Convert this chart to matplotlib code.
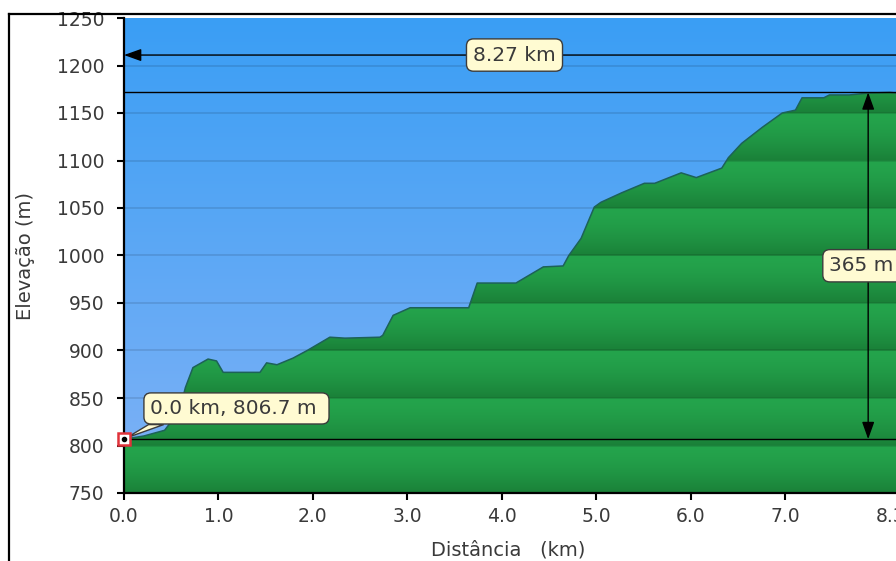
"""Elevation profile of a 8.27 km trail, with distance and climb markers."""

import numpy as np
import matplotlib
matplotlib.use("Agg")
import matplotlib.pyplot as plt
from matplotlib.patches import Polygon
from matplotlib.lines import Line2D

# Profile.
dist_km = [0.00, 0.21, 0.43, 0.59, 0.65, 0.73, 0.89, 0.98, 1.05, 1.44,
           1.51, 1.62, 1.79, 1.94, 2.18, 2.34, 2.71, 2.74, 2.85, 3.03,
           3.65, 3.74, 4.15, 4.44, 4.65, 4.71, 4.84, 4.98, 5.05, 5.27,
           5.51, 5.62, 5.90, 6.06, 6.33, 6.40, 6.54, 6.76, 6.97, 7.11,
           7.18, 7.41, 7.47, 7.68, 7.89, 8.11, 8.27]
elev_m = [806.7, 810, 816, 837, 861, 882, 891, 889, 877, 877,
          887, 885, 892, 900, 914, 913, 914, 916, 937, 945,
          945, 971, 971, 988, 989, 1000, 1018, 1051, 1056, 1066,
          1076, 1076, 1087, 1082, 1092, 1103, 1118, 1135, 1150, 1153,
          1166, 1166, 1169, 1169, 1171, 1171.7, 1170]

total_km = 8.27
start_elev = 806.7
gain_m = 365
xtick_vals = [0, 1, 2, 3, 4, 5, 6, 7, total_km]
xtick_labels = ['0.0', '1.0', '2.0', '3.0', '4.0', '5.0', '6.0', '7.0', '8.3']
ytick_vals = list(range(750, 1251, 50))

TIP_FC = '#fffbd2'
TIP_EC = '#3c3c3c'
TEXT_C = '#3a3a3a'


def band_gradient(elev, light, dark, band=50.0):
    """Colour rows so each 50 m band fades from light (top) to dark."""
    top = np.ceil(elev / band) * band
    t = (top - elev) / band
    t = t ** 1.6
    light = np.array(light) / 255.0
    dark = np.array(dark) / 255.0
    return light[None, :] * (1 - t[:, None]) + dark[None, :] * t[:, None]


def main():
    ymin, ymax = 750, 1250
    fig = plt.figure(figsize=(8.96, 5.61), dpi=100)
    # the axes runs past the right edge, like the cropped reference
    ax = fig.add_axes([124 / 896, 68 / 561, 781 / 896, 475 / 561])
    ax.set_xlim(0, total_km)
    ax.set_ylim(ymin, ymax)

    rows = np.linspace(ymax, ymin, 1000)
    # sky gradient
    top_c = np.array([58, 158, 244]) / 255.0
    bot_c = np.array([128, 178, 246]) / 255.0
    f = (ymax - rows) / (ymax - ymin)
    sky = top_c[None, :] * (1 - f[:, None]) + bot_c[None, :] * f[:, None]
    ax.imshow(sky[:, None, :], extent=[0, total_km, ymin, ymax],
              aspect='auto', zorder=0, interpolation='bilinear')

    # ground, clipped to the profile
    ground = band_gradient(rows, (36, 164, 76), (26, 128, 56))
    im = ax.imshow(ground[:, None, :], extent=[0, total_km, ymin, ymax],
                   aspect='auto', zorder=1, interpolation='bilinear')
    verts = list(zip(dist_km, elev_m)) + [(total_km, ymin), (0, ymin)]
    clip = Polygon(verts, closed=True, facecolor='none', edgecolor='none',
                   transform=ax.transData)
    ax.add_patch(clip)
    im.set_clip_path(clip)
    ax.plot(dist_km, elev_m, color='#1d6258', lw=1.1, zorder=3)

    for y in ytick_vals[1:-1]:
        ax.axhline(y, color='black', alpha=0.12, lw=1.2, zorder=2)

    # start and top elevation lines
    top_elev = start_elev + gain_m
    ax.axhline(start_elev, color='black', lw=1, zorder=4)
    ax.axhline(top_elev, color='black', lw=1, zorder=4)

    dist_y = 1211
    ax.annotate('', xy=(0, dist_y), xytext=(total_km, dist_y), zorder=5,
                arrowprops=dict(arrowstyle='-|>,head_length=0.7,head_width=0.25',
                                color='black', lw=1, mutation_scale=15,
                                shrinkA=0, shrinkB=0))
    gain_x = 7.88
    ax.annotate('', xy=(gain_x, start_elev), xytext=(gain_x, top_elev),
                zorder=5,
                arrowprops=dict(arrowstyle='<|-|>,head_length=0.7,head_width=0.25',
                                color='black', lw=1, mutation_scale=15,
                                shrinkA=0, shrinkB=0))

    box = dict(boxstyle='round,pad=0.33,rounding_size=0.35',
               fc=TIP_FC, ec=TIP_EC, lw=1)
    ax.text(total_km / 2, dist_y, f'{total_km:.2f} km', ha='center',
            va='center', fontsize=14.5, color=TEXT_C, bbox=box, zorder=6)
    ax.text(7.47, (start_elev + top_elev) / 2, f'{gain_m} m   ',
            ha='left', va='center', fontsize=14.5, color=TEXT_C,
            bbox=box, zorder=6)

    # tooltip for the start point with its tail
    tail = Polygon([(0.03, start_elev + 1.5), (0.26, 822), (0.42, 822)],
                   closed=True, fc=TIP_FC, ec=TIP_EC, lw=1, zorder=6)
    ax.add_patch(tail)
    ax.text(0.275, 839, f'0.0 km, {start_elev:.1f} m ', ha='left',
            va='center', fontsize=14.5, color=TEXT_C, zorder=7,
            bbox=dict(boxstyle='round,pad=0.3,rounding_size=0.35',
                      fc=TIP_FC, ec=TIP_EC, lw=1))
    ax.plot([0], [start_elev], marker='s', ms=8.5, mfc='white',
            mec='#e0323a', mew=1.8, zorder=11, clip_on=False)
    ax.plot([0], [start_elev], marker='o', ms=3, color='black', zorder=12,
            clip_on=False)

    # axes styling
    for side in ('top', 'right'):
        ax.spines[side].set_visible(False)
    for side in ('left', 'bottom'):
        ax.spines[side].set_linewidth(1.6)
        ax.spines[side].set_zorder(10)
    ax.set_yticks(ytick_vals)
    ax.set_xticks(xtick_vals)
    ax.set_xticklabels(xtick_labels)
    ax.get_xticklabels()[-1].set_ha('right')
    ax.tick_params(axis='both', direction='out', length=5, width=1.5,
                   labelsize=13.5, labelcolor=TEXT_C)
    ax.tick_params(axis='y', pad=9)
    ax.tick_params(axis='x', pad=5)
    ax.set_xlabel('Distância   (km)', fontsize=14, color=TEXT_C)
    ax.set_ylabel('Elevação (m)', fontsize=14, color=TEXT_C)
    ax.xaxis.set_label_coords((508 - 124) / 781, (493 - 550) / 475)
    ax.yaxis.set_label_coords((25 - 124) / 781, 0.5)
    ax.xaxis.label.set_va('center')
    ax.yaxis.label.set_va('center')

    # outer frame of the picture
    fx = 8.5 / 896
    fy = 1 - 13.5 / 561
    fig.add_artist(Line2D([fx, fx], [0, fy], color='black', lw=1.6))
    fig.add_artist(Line2D([fx, 1], [fy, fy], color='black', lw=1.6))

    fig.savefig('out.png', dpi=100)


if __name__ == "__main__":
    main()
